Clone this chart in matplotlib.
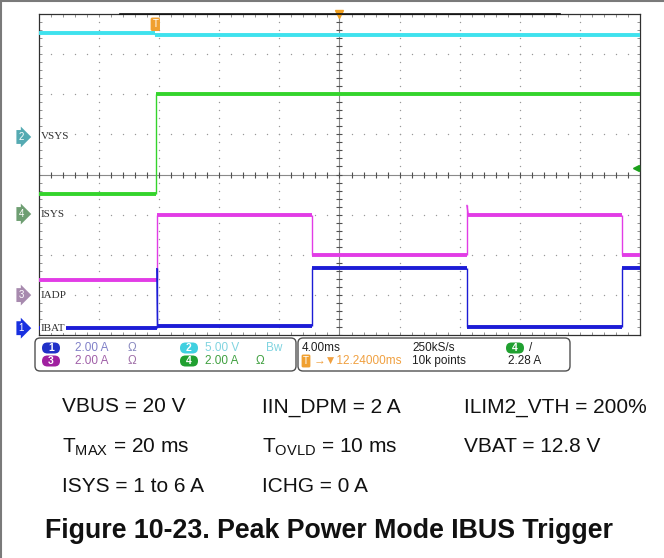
import numpy as np
import matplotlib
matplotlib.use('Agg')
import matplotlib.pyplot as plt
from matplotlib.patches import FancyBboxPatch
from matplotlib.collections import LineCollection
from matplotlib.transforms import blended_transform_factory

plt.rcParams['font.family'] = ['Liberation Sans', 'DejaVu Sans']
plt.rcParams['mathtext.fontset'] = 'custom'
plt.rcParams['mathtext.rm'] = 'Liberation Sans'

W, H = 664, 558

# scope timebase: 4 ms/div, trigger 12.24 ms left of centre
T_DIV = 4.0
T_OFFSET = 12.24
T_LEFT = T_OFFSET - 5 * T_DIV
T_RIGHT = T_OFFSET + 5 * T_DIV

# channel scale (units/div) and ground marker position (div)
VSYS_SCALE, VSYS_POS = 5.0, 0.935
ISYS_SCALE, ISYS_POS = 2.0, -0.985
IADP_SCALE, IADP_POS = 2.0, -3.005
IBAT_SCALE, IBAT_POS = 2.0, -3.83
TRIG_LEVEL = 2.28  # A, on ISYS

# waveforms: time (ms from trigger) / level
vsys_t = [T_LEFT, 0.0, 0.0, 32.24]
vsys_v = [13.0, 13.0, 12.65, 12.65]

isys_t = [T_LEFT, 0.05, 0.05, 32.24]
isys_a = [1.0, 1.0, 6.0, 6.0]

iadp_t = [T_LEFT, 0.1, 0.1, 10.4, 10.4, 20.7, 20.7, 20.8, 31.0, 31.0, 32.24]
iadp_a = [0.75, 0.75, 4.0, 4.0, 2.0, 2.0, 4.5, 4.0, 4.0, 2.0, 2.0]

ibat_t = [T_LEFT, 0.1, 0.1, 0.15, 10.4, 10.4, 20.7, 20.7, 31.0, 31.0, 32.24]
ibat_a = [0.0, 0.0, 3.0, 0.1, 0.1, 3.0, 3.0, 0.05, 0.05, 3.0, 3.0]

C_VSYS = '#3fe2ee'
C_ISYS = '#34d42c'
C_IADP = '#e23ce6'
C_IBAT = '#1c1cd6'


def trace(ax, t, v, scale, pos, color):
    y = np.asarray(v) / scale + pos
    pts = np.column_stack([t, y])
    segs = [pts[i:i + 2] for i in range(len(pts) - 1)]
    widths = [2.8 if v[i] == v[i + 1] else 1.0 for i in range(len(pts) - 1)]
    ax.add_collection(LineCollection(segs, colors=color, linewidths=widths,
                                     capstyle='butt', zorder=5))


fig = plt.figure(figsize=(W / 100, H / 100), dpi=100)

x0, x1, y0, y1 = 38.5, 640.5, 14, 335
ax = fig.add_axes([x0 / W, 1 - y1 / H, (x1 - x0) / W, (y1 - y0) / H])
ax.set_xlim(T_LEFT, T_RIGHT)
ax.set_ylim(-4, 4)
for sp in ax.spines.values():
    sp.set_color('#303030')
    sp.set_linewidth(0.9)
ax.set_xticks(T_LEFT + 0.8 * np.arange(51))
ax.set_yticks(-4 + 0.2 * np.arange(41))
ax.tick_params(direction='in', length=2.5, width=0.6, color='#808080',
               top=True, right=True, labelbottom=False, labelleft=False)

# dotted graticule
minor_t = T_LEFT + 0.8 * np.arange(51)
minor_y = -4 + 0.2 * np.arange(41)
for k in range(1, 10):
    if k == 5:
        continue
    ax.scatter(np.full(41, T_LEFT + k * T_DIV), minor_y, s=1.0,
               color='#999999', lw=0, zorder=1)
for k in (-3, -2, -1, 1, 2, 3):
    ax.scatter(minor_t, np.full(51, k), s=1.0, color='#999999', lw=0, zorder=1)
ax.axhline(0, color='#8a8a8a', lw=0.8, zorder=1)
ax.axvline(T_OFFSET, color='#8a8a8a', lw=0.8, zorder=1)
ax.plot(minor_t, np.zeros(51), ls='none', marker='|', ms=4, mew=0.8,
        color='#505050', zorder=1)
ax.plot(np.full(41, T_OFFSET), minor_y, ls='none', marker='_', ms=4, mew=0.8,
        color='#505050', zorder=1)

trace(ax, vsys_t, vsys_v, VSYS_SCALE, VSYS_POS, C_VSYS)
trace(ax, isys_t, isys_a, ISYS_SCALE, ISYS_POS, C_ISYS)
trace(ax, iadp_t, iadp_a, IADP_SCALE, IADP_POS, C_IADP)
trace(ax, ibat_t, ibat_a, IBAT_SCALE, IBAT_POS, C_IBAT)

# ground markers and labels on the left
lt = blended_transform_factory(ax.transAxes, ax.transData)
markers = [('2', 'VSYS', VSYS_POS, '#55aab2'),
           ('4', 'ISYS', ISYS_POS, '#6e9e72'),
           ('3', 'IADP', IADP_POS, '#a78aae'),
           ('1', 'IBAT', IBAT_POS, '#1830e0')]
for num, name, pos, col in markers:
    ax.text(-0.029, pos, num, transform=lt, ha='center', va='center',
            fontsize=7, color='white', clip_on=False, zorder=8,
            bbox=dict(boxstyle='rarrow,pad=0.2', fc=col, ec='none'))
    ax.text(0.004, pos, name, transform=lt, ha='left', va='center',
            fontsize=8, color='#303030', family=['Liberation Serif', 'DejaVu Serif'],
            zorder=7, bbox=dict(fc='white', ec='none', pad=0.3))

# trigger position, horizontal position and trigger level
tt = blended_transform_factory(ax.transData, ax.transAxes)
ax.text(0.0, 0.968, 'T', transform=tt, ha='center', va='center', fontsize=7,
        color='white', zorder=8,
        bbox=dict(boxstyle='round,pad=0.18', fc='#f0a030', ec='none'))
ax.plot([T_OFFSET], [1.0], transform=tt, marker='v', ms=6, color='#f0a020',
        clip_on=False, zorder=8)
ax.plot([0.992], [TRIG_LEVEL / ISYS_SCALE + ISYS_POS], transform=lt,
        marker='<', ms=5, color='#1aa01a', clip_on=False, zorder=8)

# overlay in pixel units for the readout panel and the notes
ov = fig.add_axes([0, 0, 1, 1])
ov.set_xlim(0, W)
ov.set_ylim(H, 0)
ov.axis('off')
ov.plot([1, 1], [0, H], color='#7a7a7a', lw=1.5)
ov.plot([0, W], [1, 1], color='#7a7a7a', lw=1.5)
# record view strip along the top of the graticule
ov.plot([120, 560], [14, 14], color='#101010', lw=1.2)

for bx, bw in ((35, 261), (298, 272)):
    ov.add_patch(FancyBboxPatch((bx, 338), bw, 33,
                                boxstyle='round,pad=0,rounding_size=5',
                                fc='white', ec='#505050', lw=1))

narrow = ['Liberation Sans Narrow', 'Liberation Sans']


def pill(x, y, txt, col):
    ov.add_patch(FancyBboxPatch((x - 9, y - 5.5), 18, 11,
                                boxstyle='round,pad=0,rounding_size=5.5',
                                fc=col, ec='none'))
    ov.text(x, y, txt, ha='center', va='center', fontsize=7.5, color='white',
            weight='bold')


r1, r2 = 348, 361
pill(51, r1, '1', '#2030c8')
pill(51, r2, '3', '#a020a0')
pill(189, r1, '2', '#40d0e0')
pill(189, r2, '4', '#20a030')
pill(515, r1, '4', '#20a030')
panel = [(75, r1, '2.00 A', '#8080c8'), (128, r1, 'Ω', '#8a8ac0'),
         (205, r1, '5.00 V', '#80d4e0'), (266, r1, 'Bw', '#80d4e0'),
         (75, r2, '2.00 A', '#a060a8'), (128, r2, 'Ω', '#a070a8'),
         (205, r2, '2.00 A', '#40a040'), (256, r2, 'Ω', '#40a040'),
         (302, r1, '4.00ms', '#202020'), (412, r1, '250kS/s', '#202020'),
         (529, r1, '/', '#202020'), (412, r2, '10k points', '#202020'),
         (508, r2, '2.28 A', '#202020'), (314, r2, '→▼12.24000ms', '#f0a040')]
for x, y, s, c in panel:
    ov.text(x, y, s, ha='left', va='center', fontsize=8.5, color=c,
            family=narrow)
ov.text(306, r2, 'T', ha='center', va='center', fontsize=7, color='white',
        bbox=dict(boxstyle='round,pad=0.15', fc='#f0a030', ec='none'))

notes = [(62, 412.5, 'VBUS = 20 V'), (262, 412.5, 'IIN_DPM = 2 A'),
         (464, 412.5, 'ILIM2_VTH = 200%'),
         (62, 452, r'T$_{\mathrm{MAX}}$ = 20 ms'),
         (262, 452, r'T$_{\mathrm{OVLD}}$ = 10 ms'),
         (464, 452, 'VBAT = 12.8 V'),
         (62, 492.5, 'ISYS = 1 to 6 A'), (262, 492.5, 'ICHG = 0 A')]
for x, y, s in notes:
    ov.text(x, y, s, ha='left', va='baseline', fontsize=15, color='#111111')
ov.text(45, 538, 'Figure 10-23. Peak Power Mode IBUS Trigger', ha='left',
        va='baseline', fontsize=19.3, weight='bold', color='#111111')

fig.savefig('out.png', dpi=100)
